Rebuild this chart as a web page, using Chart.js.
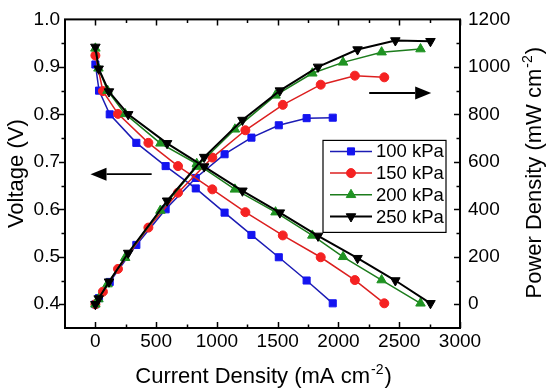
<!DOCTYPE html>
<html>
<head>
<meta charset="utf-8">
<script src="https://cdn.jsdelivr.net/npm/chart.js@4.4.0/dist/chart.umd.min.js"></script>
<style>
  body { margin: 0; background: #fff; }
</style>
</head>
<body>
<canvas id="chart" width="550" height="390"></canvas>
<script>
// current density (mA cm-2), voltage (V) and power density (mW cm-2)
let cur100 = [0, 30, 118, 337, 578, 826, 1063, 1284, 1509, 1738, 1953];
let volt100 = [0.905, 0.85, 0.80, 0.74, 0.691, 0.644, 0.593, 0.546, 0.499, 0.45, 0.402];
let pow100 = [0, 26, 94, 250, 400, 532, 632, 702, 754, 784, 786];

let cur150 = [0, 62, 186, 436, 680, 962, 1234, 1542, 1854, 2135, 2377];
let volt150 = [0.924, 0.849, 0.801, 0.74, 0.691, 0.642, 0.594, 0.545, 0.499, 0.451, 0.402];
let pow150 = [0, 53, 149, 323, 470, 618, 733, 840, 925, 963, 956];

let cur200 = [0, 25, 100, 245, 535, 834, 1148, 1482, 1785, 2038, 2355, 2675];
let volt200 = [0.939, 0.897, 0.85, 0.801, 0.739, 0.696, 0.642, 0.594, 0.545, 0.5, 0.451, 0.402];
let pow200 = [0, 22, 85, 196, 395, 580, 737, 880, 973, 1019, 1062, 1075];

let cur250 = [0, 27, 112, 270, 590, 895, 1210, 1518, 1832, 2157, 2468, 2757];
let volt250 = [0.942, 0.896, 0.848, 0.8, 0.739, 0.69, 0.639, 0.593, 0.544, 0.497, 0.45, 0.402];
let pow250 = [0, 24, 95, 216, 436, 620, 776, 900, 1000, 1073, 1111, 1108];

let labels = ['100 kPa', '150 kPa', '200 kPa', '250 kPa'];
let xTicks = [0, 500, 1000, 1500, 2000, 2500, 3000];
let vTicks = [0.4, 0.5, 0.6, 0.7, 0.8, 0.9, 1.0];
let pTicks = [0, 200, 400, 600, 800, 1000, 1200];

let FONT = '"Liberation Sans", Arial, sans-serif';

let styles = [
  { line: '#1c1cb4', fill: '#1414f0', shape: 'rect', rot: 0, r: 5, lw: 1.5 },
  { line: '#dc2020', fill: '#f52222', shape: 'circle', rot: 0, r: 4.5, lw: 1.5 },
  { line: '#1c7c1c', fill: '#1f9322', shape: 'triangle', rot: 0, r: 5.5, lw: 1.5 },
  { line: '#000000', fill: '#000000', shape: 'triangle', rot: 180, r: 5.5, lw: 2 }
];

function pts(xs, ys) {
  return xs.map((x, i) => ({ x: x, y: ys[i] }));
}

function makeSet(i, xs, ys, axis) {
  let s = styles[i];
  return {
    label: labels[i],
    data: pts(xs, ys),
    yAxisID: axis,
    borderColor: s.line,
    borderWidth: s.lw,
    backgroundColor: s.fill,
    pointStyle: s.shape,
    pointRotation: s.rot,
    pointRadius: s.r,
    pointBackgroundColor: s.fill,
    pointBorderColor: s.fill,
    pointBorderWidth: 1,
    tension: 0,
    order: 4 - i
  };
}

function drawArrow(ctx, x1, y1, x2, y2) {
  let ang = Math.atan2(y2 - y1, x2 - x1);
  let hl = 16, hw = 6.5;
  let bx = x2 - Math.cos(ang) * hl, by = y2 - Math.sin(ang) * hl;
  ctx.beginPath();
  ctx.moveTo(x1, y1);
  ctx.lineTo(bx, by);
  ctx.lineWidth = 1.8;
  ctx.stroke();
  ctx.beginPath();
  ctx.moveTo(x2, y2);
  ctx.lineTo(bx + Math.sin(ang) * hw, by - Math.cos(ang) * hw);
  ctx.lineTo(bx - Math.sin(ang) * hw, by + Math.cos(ang) * hw);
  ctx.closePath();
  ctx.fill();
}

// text with a "-2" superscript, centred on (0,0) of the current transform
function supText(ctx, main, sup, tail, size) {
  let big = size + 'px ' + FONT, small = Math.round(size * 0.62) + 'px ' + FONT;
  ctx.font = big;
  let w1 = ctx.measureText(main).width, w3 = ctx.measureText(tail).width;
  ctx.font = small;
  let w2 = ctx.measureText(sup).width;
  let x = -(w1 + w2 + w3) / 2;
  ctx.textAlign = 'left';
  ctx.textBaseline = 'alphabetic';
  ctx.font = big;
  ctx.fillText(main, x, 0);
  ctx.font = small;
  ctx.fillText(sup, x + w1 + 1, -9);
  ctx.font = big;
  ctx.fillText(tail, x + w1 + w2 + 2, 0);
}

let extras = {
  id: 'extras',
  afterDatasetsDraw(chart) {
    let ctx = chart.ctx, a = chart.chartArea;
    let sx = chart.scales.x, sy = chart.scales.y, sp = chart.scales.y2;
    ctx.save();
    ctx.strokeStyle = '#000';
    ctx.fillStyle = '#000';

    // frame
    ctx.lineWidth = 2;
    ctx.strokeRect(a.left, a.top, a.right - a.left, a.bottom - a.top);

    // ticks
    ctx.lineWidth = 1.5;
    ctx.beginPath();
    for (let v = -250; v <= 3000; v += 250) {
      let px = Math.round(sx.getPixelForValue(v)) + 0.5;
      let len = v % 500 === 0 ? 6 : 3.5;
      if (v === -250) continue;
      ctx.moveTo(px, a.bottom); ctx.lineTo(px, a.bottom - len);
      ctx.moveTo(px, a.top); ctx.lineTo(px, a.top + len);
    }
    for (let i = 8; i <= 19; i++) {
      let py = Math.round(sy.getPixelForValue(i * 0.05)) + 0.5;
      let len = i % 2 === 0 ? 6 : 3.5;
      ctx.moveTo(a.left, py); ctx.lineTo(a.left - len, py);
    }
    for (let v = 0; v < 1200; v += 100) {
      let py = Math.round(sp.getPixelForValue(v)) + 0.5;
      let len = v % 200 === 0 ? 6 : 3.5;
      ctx.moveTo(a.right, py); ctx.lineTo(a.right - len, py);
    }
    ctx.stroke();

    // arrows
    drawArrow(ctx, sx.getPixelForValue(463), sy.getPixelForValue(0.674),
              sx.getPixelForValue(-40), sy.getPixelForValue(0.674));
    drawArrow(ctx, sx.getPixelForValue(2253), sp.getPixelForValue(890),
              sx.getPixelForValue(2763), sp.getPixelForValue(890));

    // legend
    let lx = a.right - 137, ly = a.top + 121;
    ctx.lineWidth = 1.2;
    ctx.strokeRect(lx, ly, 123, 92);
    ctx.font = '18.5px ' + FONT;
    ctx.textAlign = 'left';
    ctx.textBaseline = 'middle';
    for (let i = 0; i < 4; i++) {
      let s = styles[i];
      let y = ly + 11 + i * 21.7;
      ctx.strokeStyle = s.line;
      ctx.lineWidth = s.lw;
      ctx.beginPath();
      ctx.moveTo(lx + 7, y); ctx.lineTo(lx + 49, y);
      ctx.stroke();
      ctx.fillStyle = s.fill;
      ctx.strokeStyle = s.fill;
      ctx.lineWidth = 1;
      Chart.helpers.drawPoint(ctx, { pointStyle: s.shape, rotation: s.rot, radius: s.r, borderWidth: 1 }, lx + 28, y);
      ctx.fillStyle = '#000';
      ctx.fillText(labels[i], lx + 53, y + 1);
    }

    // axis titles
    ctx.fillStyle = '#000';
    let mid = (a.top + a.bottom) / 2;
    ctx.save();
    ctx.translate(23, mid);
    ctx.rotate(-Math.PI / 2);
    ctx.font = '22px ' + FONT;
    ctx.textAlign = 'center';
    ctx.textBaseline = 'alphabetic';
    ctx.fillText('Voltage (V)', 0, 0);
    ctx.restore();

    ctx.save();
    ctx.translate(541, mid);
    ctx.rotate(-Math.PI / 2);
    supText(ctx, 'Power Density (mW cm', '-2', ')', 22);
    ctx.restore();

    ctx.save();
    ctx.translate((a.left + a.right) / 2, 383);
    supText(ctx, 'Current Density (mA cm', '-2', ')', 22);
    ctx.restore();

    ctx.restore();
  }
};

let config = {
  type: 'line',
  data: {
    datasets: [
      makeSet(0, cur100, volt100, 'y'),
      makeSet(1, cur150, volt150, 'y'),
      makeSet(2, cur200, volt200, 'y'),
      makeSet(3, cur250, volt250, 'y'),
      makeSet(0, cur100, pow100, 'y2'),
      makeSet(1, cur150, pow150, 'y2'),
      makeSet(2, cur200, pow200, 'y2'),
      makeSet(3, cur250, pow250, 'y2')
    ]
  },
  options: {
    responsive: false,
    animation: false,
    devicePixelRatio: 1,
    layout: { padding: { top: 9, left: 0, right: 0, bottom: 0 } },
    plugins: { legend: { display: false }, tooltip: { enabled: false } },
    scales: {
      x: {
        type: 'linear', min: -250, max: 3000,
        grid: { display: false, drawTicks: false },
        border: { display: false },
        afterBuildTicks: s => { s.ticks = xTicks.map(v => ({ value: v })); },
        afterFit: s => { s.height = 62; },
        ticks: {
          color: '#000', padding: 2, maxRotation: 0,
          font: { family: FONT, size: 19 },
          callback: v => String(v)
        }
      },
      y: {
        position: 'left', min: 0.35, max: 1.0,
        grid: { display: false, drawTicks: false },
        border: { display: false },
        afterBuildTicks: s => { s.ticks = vTicks.map(v => ({ value: v })); },
        afterFit: s => { s.width = 65; },
        ticks: {
          color: '#000', padding: 5,
          font: { family: '"Liberation Sans Narrow", ' + FONT, size: 19 },
          callback: v => v.toFixed(1)
        }
      },
      y2: {
        position: 'right', min: -100, max: 1200,
        grid: { display: false, drawTicks: false },
        border: { display: false },
        afterBuildTicks: s => { s.ticks = pTicks.map(v => ({ value: v })); },
        afterFit: s => { s.width = 90; },
        ticks: {
          color: '#000', padding: 8,
          font: { family: FONT, size: 19 },
          callback: v => String(v)
        }
      }
    }
  },
  plugins: [extras]
};

new Chart(document.getElementById('chart'), config);
</script>
</body>
</html>
